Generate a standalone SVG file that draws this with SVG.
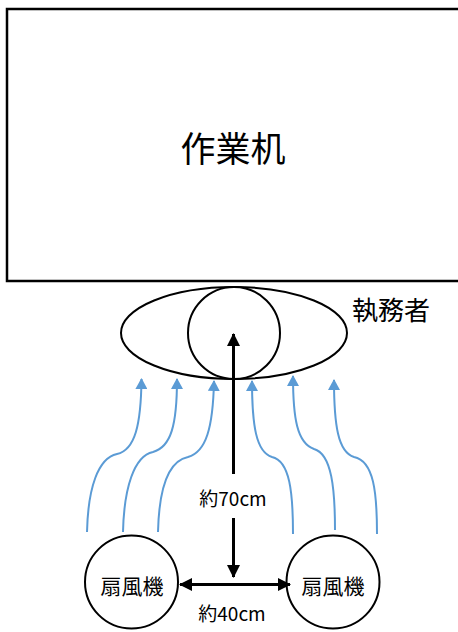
<svg xmlns="http://www.w3.org/2000/svg" width="458" height="632" viewBox="0 0 458 632">
<defs>
<style>
.ol{fill:#fff;stroke:#000;stroke-width:2}
.tx{font-family:"Noto Sans CJK JP","Noto Sans",sans-serif;fill:#000;text-anchor:middle;dominant-baseline:central}
.air{fill:none;stroke:#5B9BD5;stroke-width:2;marker-end:url(#ba)}
.dim{fill:none;stroke:#000;stroke-width:3}
</style>
<marker id="ba" viewBox="0 0 12 12" markerWidth="12" markerHeight="12" refX="10" refY="6" orient="auto" markerUnits="userSpaceOnUse">
<path d="M0,0 L11,6 L0,12 Z" fill="#5B9BD5"/>
</marker>
<marker id="ka" viewBox="0 0 14 13" markerWidth="14" markerHeight="13" refX="12" refY="6.5" orient="auto" markerUnits="userSpaceOnUse">
<path d="M0,0 L13,6.5 L0,13 Z" fill="#000"/>
</marker>
<marker id="ks" viewBox="0 0 14 13" markerWidth="14" markerHeight="13" refX="2" refY="6.5" orient="auto" markerUnits="userSpaceOnUse">
<path d="M14,0 L1,6.5 L14,13 Z" fill="#000"/>
</marker>
</defs>
<g id="desk">
<rect x="7" y="9" width="470" height="272" fill="#fff" stroke="#000" stroke-width="2.5"/>
<text class="tx" x="233" y="146" font-size="35">作業机</text>
</g>
<g id="worker">
<ellipse class="ol" cx="234" cy="333" rx="113" ry="46"/>
<circle class="ol" cx="234" cy="333" r="46" fill="none"/>
<text class="tx" x="391" y="308" font-size="26">執務者</text>
</g>
<g id="fan-left">
<circle class="ol" cx="131.5" cy="582" r="46.5"/>
<text class="tx" x="132" y="585" font-size="21">扇風機</text>
</g>
<g id="fan-right">
<circle class="ol" cx="333" cy="582" r="46.5"/>
<text class="tx" x="333" y="585" font-size="21">扇風機</text>
</g>
<g id="connectors">
<path class="air" d="M87,532 C88,488 98,458 117,454 C135,450 141,425 141.5,379"/>
<path class="air" d="M123,532 C124,488 134,456 153,452 C171,447 177,425 177,379"/>
<path class="air" d="M158,532 C159,490 168,461 188,457 C206,452 213,428 214,381"/>
<path class="air" d="M293,534 C293,493 290,461 272,457 C256,452 252,425 252,381"/>
<path class="air" d="M335,530 C335,490 332,454 314,449 C297,443 293,418 293,376"/>
<path class="air" d="M377,534 C377,493 374,461 354,457 C338,452 334,425 334,380"/>
<path class="dim" d="M233.5,474 L233.5,334" marker-end="url(#ka)"/>
<path class="dim" d="M233.5,518 L233.5,577" marker-end="url(#ka)"/>
<path class="dim" d="M180,584.5 L290,584.5" marker-start="url(#ks)" marker-end="url(#ka)"/>
<text class="tx" x="233" y="497" font-size="19">約70cm</text>
<text class="tx" x="232" y="612" font-size="19">約40cm</text>
</g>
</svg>
